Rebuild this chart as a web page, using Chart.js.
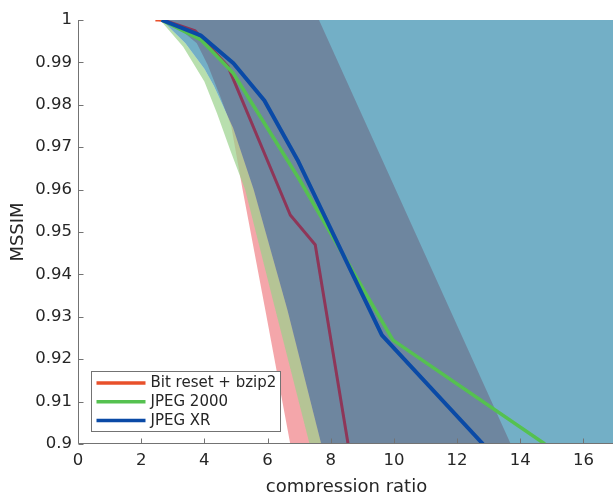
<!DOCTYPE html>
<html>
<head>
<meta charset="utf-8">
<script src="https://cdn.jsdelivr.net/npm/chart.js@4.4.1/dist/chart.umd.min.js"></script>
<style>
  html, body { margin: 0; padding: 0; background: #fff; overflow: hidden; }
</style>
</head>
<body>
<canvas id="chart" width="615" height="492"></canvas>
<script>
const seriesNames = ["Bit reset + bzip2", "JPEG 2000", "JPEG XR"];

// mean curves
const bitResetX = [2.45, 2.7, 3.7, 4.75, 6.72, 7.51, 8.55];
const bitResetY = [1, 1, 0.9975, 0.989, 0.954, 0.947, 0.9];
const j2kX = [2.65, 3.9, 4.91, 7.0, 9.97, 14.78];
const j2kY = [1, 0.9953, 0.9875, 0.9625, 0.9245, 0.9];
const jxrX = [2.65, 3.9, 4.92, 5.9, 6.95, 9.62, 12.82];
const jxrY = [1, 0.9963, 0.9898, 0.981, 0.967, 0.9257, 0.9];

// spread bands: left edge and right edge, each from top to bottom
const bitResetBandLeftX = [2.45, 3.2, 3.76, 4.1, 4.5, 4.85, 5.21, 5.93, 6.72];
const bitResetBandLeftY = [1, 0.998, 0.9945, 0.9895, 0.982, 0.975, 0.96, 0.9316, 0.9];
const bitResetBandRightX = [7.63, 13.7];
const bitResetBandRightY = [1, 0.9];

const j2kBandLeftX = [2.6, 3.33, 4.0, 4.4, 4.82, 5.29, 6.25, 7.33];
const j2kBandLeftY = [1, 0.9937, 0.9855, 0.978, 0.9693, 0.96, 0.9316, 0.9];
const j2kBandRightX = [2.65, 3.4, 4.0, 4.3, 4.91, 5.56, 6.63, 7.7];
const j2kBandRightY = [1, 0.9945, 0.9885, 0.9845, 0.9745, 0.96, 0.9316, 0.9];

const jxrBandLeftX = [2.65, 3.4, 4.0, 4.3, 4.91, 5.56, 6.63, 7.7];
const jxrBandLeftY = [1, 0.9945, 0.9885, 0.9845, 0.9745, 0.96, 0.9316, 0.9];
const jxrBandRightX = [18, 18];
const jxrBandRightY = [1, 0.9];

const xTicksStep = 2;
const yTicksStep = 0.01;

const colors = {
  red: "#e8502b",
  redUnder: "#8e3658",
  green: "#55c150",
  blue: "#0a4aa6",
  redBand: "rgba(231, 57, 66, 0.45)",
  greenBand: "rgba(154, 209, 139, 0.7)",
  blueBand: "rgba(0, 110, 151, 0.55)",
  axis: "#737373",
  text: "#262626",
};
const FONT = "DejaVu Sans";

const pts = (xs, ys) => xs.map((x, i) => ({ x, y: ys[i] }));
const band = (lx, ly, rx, ry) => pts(lx, ly).concat(pts(rx, ry).reverse());

const bandStyle = (bg, order) => ({
  backgroundColor: bg,
  borderWidth: 0,
  pointRadius: 0,
  fill: "shape",
  tension: 0,
  order,
  isBand: true,
});

const lineStyle = (color, width, order) => ({
  borderColor: color,
  backgroundColor: color,
  borderWidth: width,
  pointRadius: 0,
  fill: false,
  tension: 0,
  borderJoinStyle: "round",
  order,
});

// MATLAB-ish axes: lines and inward ticks drawn over the data
const axesPlugin = {
  id: "matlabAxes",
  afterDatasetsDraw(chart) {
    const { ctx, chartArea: a, scales } = chart;
    const L = Math.round(a.left) + 0.5;
    const B = Math.round(a.bottom) - 0.5;
    ctx.save();
    ctx.strokeStyle = colors.axis;
    ctx.lineWidth = 1;
    ctx.beginPath();
    ctx.moveTo(L, a.top);
    ctx.lineTo(L, B);
    ctx.lineTo(a.right, B);
    scales.x.ticks.forEach((t) => {
      const px = Math.round(scales.x.getPixelForValue(t.value)) + 0.5;
      ctx.moveTo(px, B);
      ctx.lineTo(px, B - 5);
    });
    scales.y.ticks.forEach((t) => {
      const py = Math.round(scales.y.getPixelForValue(t.value)) + 0.5;
      ctx.moveTo(L, py);
      ctx.lineTo(L + 5, py);
    });
    ctx.stroke();
    ctx.restore();
  },
  afterDraw(chart) {
    const { ctx, chartArea: a } = chart;
    const lines = chart.data.datasets.filter((d) => !d.isBand);
    const boxL = Math.round(a.left) + 13.5;
    const boxT = Math.round(a.bottom) - 72.5;
    const boxW = 189, boxH = 60;
    ctx.save();
    ctx.fillStyle = "#fff";
    ctx.fillRect(boxL, boxT, boxW, boxH);
    ctx.strokeStyle = colors.axis;
    ctx.lineWidth = 1;
    ctx.strokeRect(boxL, boxT, boxW, boxH);
    ctx.font = `15px "${FONT}"`;
    ctx.textBaseline = "middle";
    ctx.fillStyle = colors.text;
    lines.forEach((d, i) => {
      const y = boxT + 11.5 + i * 18.8;
      ctx.strokeStyle = d.borderColor;
      ctx.lineWidth = 3.5;
      ctx.beginPath();
      ctx.moveTo(boxL + 5, y);
      ctx.lineTo(boxL + 54, y);
      ctx.stroke();
      ctx.fillText(d.label, boxL + 59, y + 0.5);
    });
    ctx.restore();
  },
};

new Chart(document.getElementById("chart"), {
  type: "line",
  data: {
    datasets: [
      { label: "bitResetBand", data: band(bitResetBandLeftX, bitResetBandLeftY, bitResetBandRightX, bitResetBandRightY), ...bandStyle(colors.redBand, 6) },
      {
        label: seriesNames[0],
        data: pts(bitResetX, bitResetY),
        ...lineStyle(colors.red, 3, 3),
        // inside the XR band the bzip2 curve reads as maroon
        segment: { borderColor: (c) => (c.p0DataIndex === 0 ? colors.red : colors.redUnder) },
      },
      { label: "j2kBand", data: band(j2kBandLeftX, j2kBandLeftY, j2kBandRightX, j2kBandRightY), ...bandStyle(colors.greenBand, 5) },
      { label: "jxrBand", data: band(jxrBandLeftX, jxrBandLeftY, jxrBandRightX, jxrBandRightY), ...bandStyle(colors.blueBand, 4) },
      { label: seriesNames[1], data: pts(j2kX, j2kY), ...lineStyle(colors.green, 3.5, 2) },
      { label: seriesNames[2], data: pts(jxrX, jxrY), ...lineStyle(colors.blue, 4, 1) },
    ],
  },
  options: {
    responsive: false,
    animation: false,
    layout: { padding: { top: 20, left: 0, right: 0, bottom: 0 } },
    plugins: { legend: { display: false }, tooltip: { enabled: false } },
    scales: {
      x: {
        type: "linear",
        min: 0,
        max: 17,
        grid: { display: false, drawTicks: false },
        border: { display: false },
        ticks: {
          stepSize: xTicksStep,
          includeBounds: false,
          color: colors.text,
          padding: 7,
          font: { family: FONT, size: 16.5 },
        },
        title: {
          display: true,
          text: "compression ratio",
          color: colors.text,
          font: { family: FONT, size: 18, lineHeight: 1 },
          padding: { top: 0, bottom: -4 },
        },
        afterFit: (s) => { s.height = 48; },
      },
      y: {
        type: "linear",
        min: 0.9,
        max: 1,
        grid: { display: false, drawTicks: false },
        border: { display: false },
        ticks: {
          stepSize: yTicksStep,
          color: colors.text,
          padding: 6,
          font: { family: FONT, size: 16.5 },
          callback: (v) => String(parseFloat(v.toFixed(2))),
        },
        title: {
          display: true,
          text: "MSSIM",
          color: colors.text,
          font: { family: FONT, size: 18, lineHeight: 1 },
          padding: { top: 9, bottom: 0 },
        },
        afterFit: (s) => { s.width = 78; },
      },
    },
  },
  plugins: [axesPlugin],
});
</script>
</body>
</html>
